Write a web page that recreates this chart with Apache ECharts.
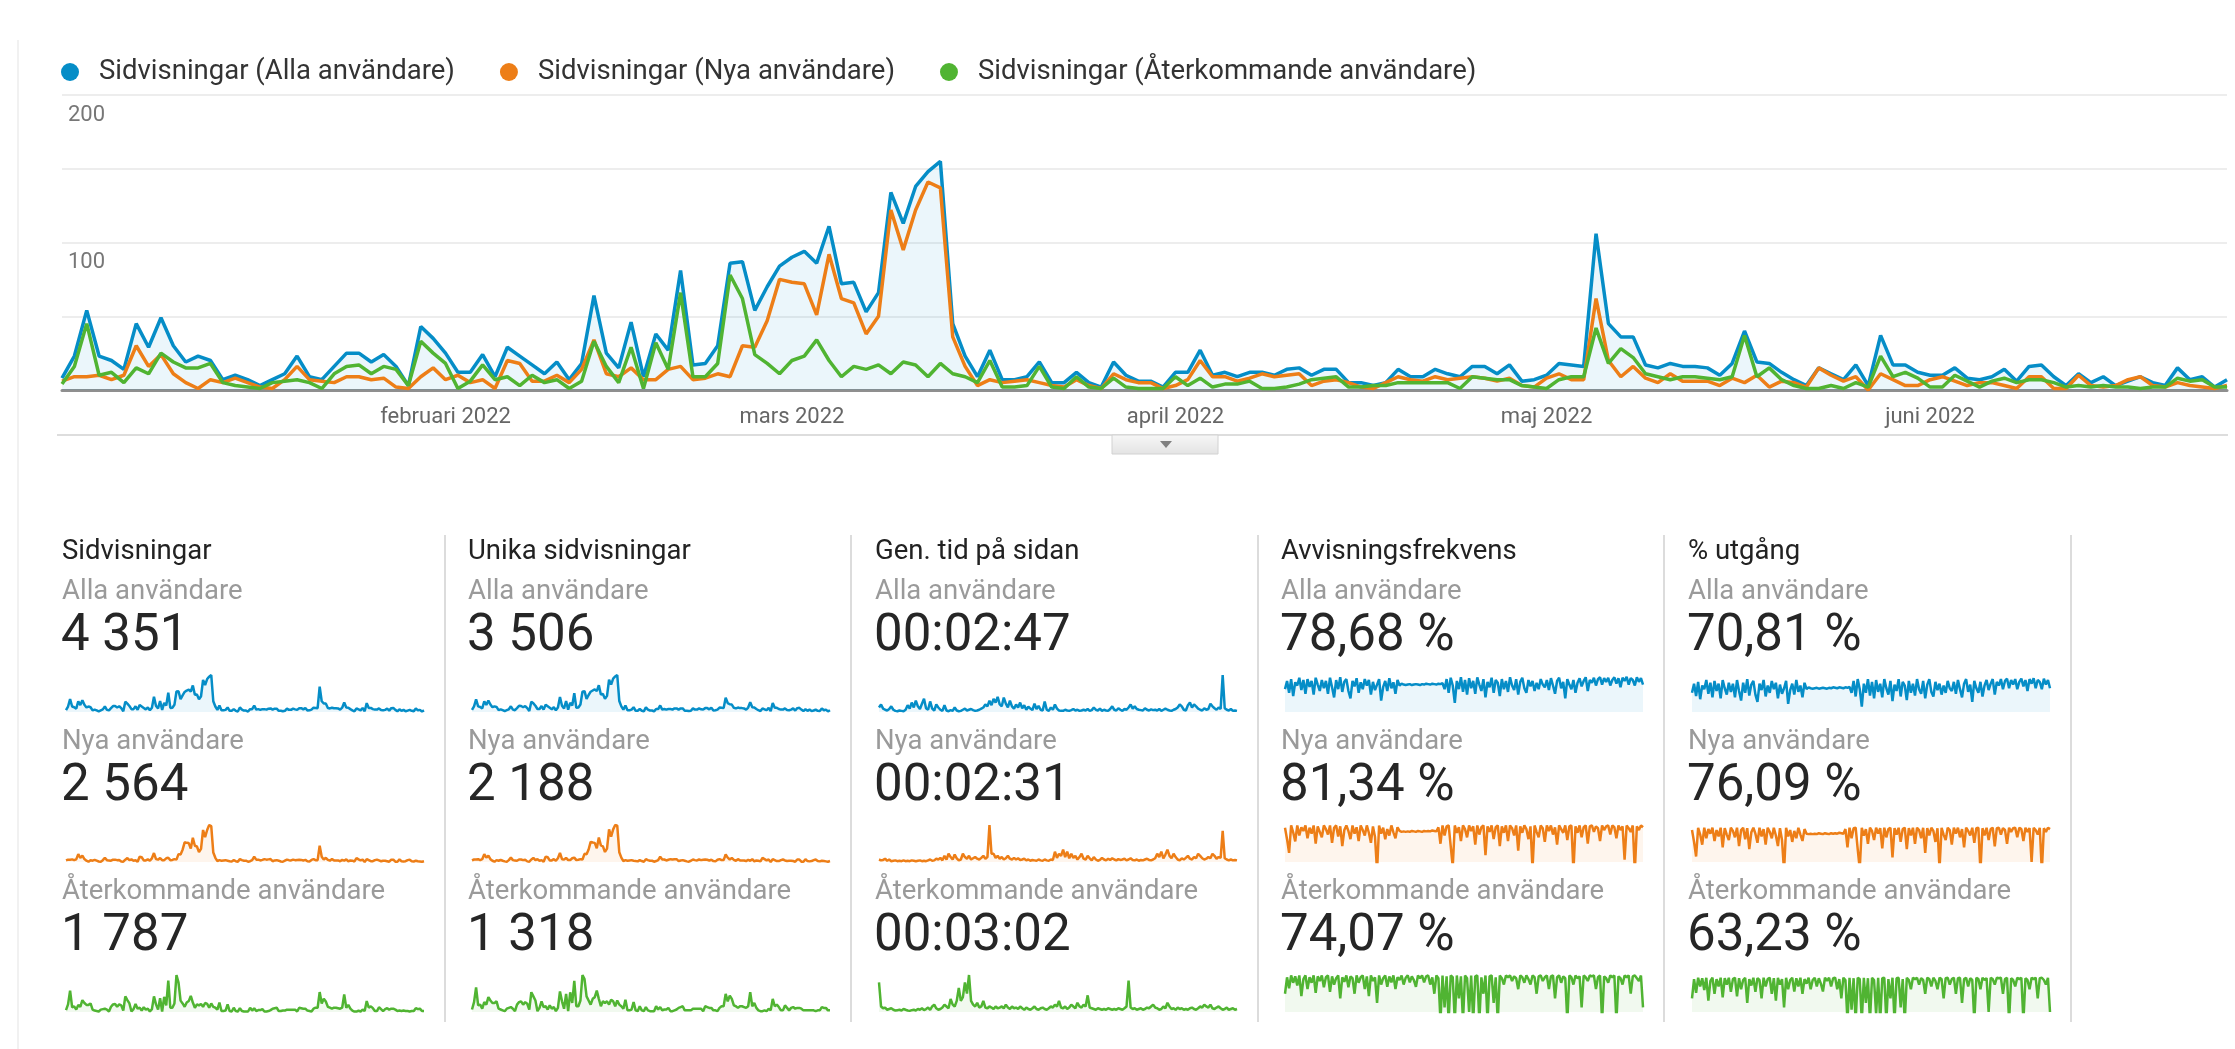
<!DOCTYPE html>
<html><head><meta charset="utf-8">
<script src="https://cdn.jsdelivr.net/npm/echarts@6/dist/echarts.min.js"></script>
<style>html,body{margin:0;padding:0;background:#fff}#c{width:2235px;height:1049px}</style>
</head><body><div id="c"></div>
<script>
// ---------- DATA ----------
const startDate = '2022-01-01';
const dayCount = 176;
const tickDates = ['2022-02-01','2022-03-01','2022-04-01','2022-05-01','2022-06-01'];
const tickLabels = ['februari 2022','mars 2022','april 2022','maj 2022','juni 2022'];
const yTickLabels = ['100','200'];
const seriesNames = ['Sidvisningar (Alla användare)','Sidvisningar (Nya användare)','Sidvisningar (Återkommande användare)'];

const pvAll = [8,23,54,23,20,14,45,29,49,30,
19,23,20,7,10,7,3,7,11,23,
9,7,16,25,25,19,24,16,3,43,
35,25,12,12,24,9,29,23,17,11,
19,7,18,64,25,15,46,9,38,27,
81,17,18,30,86,87,54,70,84,90,
94,86,111,72,73,53,66,134,113,138,
148,155,45,23,9,27,7,7,9,19,
5,5,12,5,2,19,10,6,6,2,
12,12,27,10,12,9,12,12,10,14,
15,10,14,14,5,5,3,5,14,9,
9,14,11,9,16,16,11,17,6,7,
10,18,17,16,106,45,36,36,17,15,
18,16,16,15,10,18,40,19,18,12,
7,3,15,11,7,17,3,37,17,17,
12,10,10,15,8,7,9,14,6,16,
17,9,3,11,5,9,3,6,9,5,
3,15,7,9,2,7];
const pvNew = [6,9,9,10,7,10,30,16,24,11,
5,1,7,5,8,5,2,1,7,16,
7,6,5,9,9,7,8,2,1,9,
15,7,10,5,7,1,20,18,6,6,
10,5,14,34,11,9,15,7,7,14,
16,7,8,11,9,30,29,47,75,73,
72,51,92,62,59,38,50,122,95,122,
141,137,36,16,3,7,5,6,7,5,
3,2,7,3,1,11,7,5,5,1,
3,7,20,9,9,6,8,11,9,10,
11,3,6,7,5,2,1,5,9,7,
6,9,7,8,9,8,6,8,3,2,
8,11,7,7,62,20,9,16,8,5,
11,6,6,6,3,8,5,10,2,6,
5,2,15,10,6,9,0,11,7,3,
3,7,9,6,3,5,5,3,1,9,
9,1,1,10,3,2,3,7,9,3,
2,5,3,2,1,3];
const pvRet = [4,16,45,10,12,5,15,11,25,19,
15,15,18,5,3,2,1,5,6,7,
5,1,11,16,17,11,16,14,3,33,
25,18,1,6,17,7,9,3,10,5,
7,1,6,33,16,5,29,1,32,14,
66,9,9,18,78,62,24,18,11,20,
23,34,20,9,16,14,17,11,19,17,
9,18,11,9,5,20,2,2,3,16,
2,1,9,2,1,8,2,1,1,1,
9,3,8,2,4,4,6,1,1,2,
4,7,8,9,2,2,3,3,5,5,
5,5,5,1,9,8,7,7,3,2,
1,7,9,9,42,18,28,22,11,9,
7,9,9,8,7,9,37,9,15,7,
3,1,1,3,1,5,2,23,9,12,
8,2,2,10,6,2,6,8,5,7,
7,5,2,3,2,3,2,2,1,2,
2,8,6,7,2,2];

const uniqAll = [7,19,42,19,17,12,36,24,38,25,
16,19,17,6,9,6,3,6,9,19,
8,6,13,21,20,16,20,13,3,34,
29,21,10,10,20,8,24,19,14,9,
16,6,15,50,21,12,37,8,31,22,
63,14,15,25,68,70,44,57,68,72,
76,70,90,59,60,44,54,108,92,112,
119,124,37,19,8,22,6,6,8,16,
4,4,10,4,2,16,8,5,5,2,
10,10,22,8,10,8,10,10,8,12,
12,8,12,12,4,4,3,4,12,8,
8,12,9,8,13,13,9,14,5,6,
8,15,14,13,48,30,26,25,14,12,
15,13,13,12,8,15,33,16,15,10,
6,3,12,9,6,14,3,30,14,14,
10,8,8,12,7,6,8,12,5,13,
14,8,3,9,4,8,3,5,8,4,
3,12,6,8,2,6];
const uniqNew = [5,8,8,9,6,9,25,14,20,9,
4,1,6,4,7,4,2,1,6,14,
6,5,4,8,8,6,7,2,1,8,
13,6,9,4,6,1,17,15,5,5,
9,4,12,29,9,8,13,6,6,12,
14,6,7,9,8,26,25,40,64,62,
61,44,78,53,50,32,43,104,81,104,
118,116,31,14,3,6,4,5,6,4,
3,2,6,3,1,9,6,4,4,1,
3,6,17,8,8,5,7,9,8,9,
9,3,5,6,4,2,1,4,8,6,
5,8,6,7,8,7,5,7,3,2,
7,9,6,6,24,14,8,13,7,4,
9,5,5,5,3,7,4,9,2,5,
4,2,13,9,5,8,0,9,6,3,
3,6,8,5,3,4,4,3,1,8,
8,1,1,9,3,2,3,6,8,3,
2,4,3,2,1,3];
const uniqRet = [3,12,30,8,9,4,12,9,18,14,
11,11,13,4,3,2,1,4,5,6,
4,1,9,12,13,9,12,10,3,24,
19,14,1,5,13,6,7,3,8,4,
6,1,5,25,13,4,22,1,24,11,
38,7,7,14,45,40,19,14,9,16,
18,26,16,7,13,11,13,9,15,13,
7,14,9,7,4,15,2,2,3,12,
2,1,7,2,1,6,2,1,1,1,
7,3,6,2,3,3,5,1,1,2,
3,5,6,7,2,2,2,2,4,4,
4,4,4,1,7,6,5,5,2,2,
1,5,7,7,22,13,20,16,8,7,
5,7,7,6,5,7,24,7,11,5,
2,1,1,2,1,4,2,16,7,9,
6,2,2,8,5,2,5,6,4,5,
5,4,2,2,2,2,2,2,1,2,
2,6,5,5,2,2];

// average time on page, seconds
const timeAll = [120,200,90,60,40,80,150,60,30,20,
40,30,20,60,180,90,250,120,300,150,
80,220,350,100,60,280,90,40,200,120,
60,30,180,40,20,50,30,120,40,20,
30,60,90,40,60,80,50,30,40,60,
90,120,200,150,300,180,350,250,400,200,
150,380,220,120,300,150,90,200,120,250,
100,180,60,140,90,50,220,80,160,60,
40,280,60,30,120,60,200,90,40,30,
30,60,40,30,50,80,40,60,30,40,
60,40,80,30,50,120,60,40,90,30,
60,40,30,80,150,60,40,100,60,30,
80,60,120,200,90,150,80,60,50,40,
100,60,40,70,50,60,40,80,30,60,
90,60,40,30,60,80,120,200,150,60,
40,180,250,120,200,150,90,60,40,100,
60,80,220,150,100,60,120,80,980,100,
60,40,80,30,40,30];
const timeNew = [60,40,50,80,30,60,20,30,40,20,
30,20,40,20,30,20,40,30,20,30,
40,20,30,20,40,60,30,40,80,60,
100,40,150,60,200,120,60,180,90,40,
60,200,120,80,150,60,90,120,80,60,
100,150,80,120,900,200,200,100,150,80,
120,60,90,150,80,60,100,60,90,50,
60,80,40,60,30,50,40,30,60,40,
30,60,40,30,60,50,250,100,200,150,
300,120,250,90,200,100,150,60,120,200,
80,60,150,90,40,120,60,30,50,100,
60,40,80,50,90,60,40,70,50,60,
80,40,60,90,50,40,60,30,50,40,
60,80,50,40,60,90,200,120,250,90,
180,300,150,90,200,120,60,40,90,60,
100,150,80,60,120,90,200,150,90,60,
80,120,90,200,150,80,120,100,760,90,
60,40,60,40,50,40];
const timeRet = [800,150,100,120,60,80,100,60,40,50,
60,40,80,60,40,30,50,60,40,80,
60,100,50,80,120,60,150,200,100,60,
80,120,200,150,100,350,200,150,300,650,
300,400,800,500,1000,300,200,150,250,120,
150,300,120,100,150,120,80,150,100,120,
150,100,200,120,80,150,100,120,80,150,
100,60,120,80,60,100,150,80,60,100,
120,80,60,100,150,120,200,150,300,120,
100,150,80,120,200,150,100,250,150,120,
200,150,450,120,100,80,60,100,80,60,
80,60,100,80,60,80,60,100,80,60,
100,150,850,120,80,100,60,80,100,60,
80,120,100,150,200,120,100,60,80,150,
100,250,150,80,100,60,120,80,100,60,
80,60,100,120,80,60,100,150,120,200,
150,120,200,100,80,120,150,100,60,80,
120,60,80,100,60,80];

// bounce rate, %
const bounceAll = [70,88,62,92,55,85,78,95,68,90,
60,92,75,88,58,95,80,66,90,72,
88,60,95,74,52,90,70,96,64,86,
92,66,50,88,76,94,62,85,70,92,
78,90,58,86,68,80,92,45,75,88,
66,94,72,85,60,90,78,82,80,79,
80,81,79,80,81,80,79,81,80,82,
81,80,82,81,80,82,81,83,70,92,
62,95,78,40,88,70,96,64,90,58,
94,72,88,60,96,80,66,92,52,86,
74,95,62,90,84,55,92,70,88,64,
96,78,68,92,58,86,95,72,62,90,
76,88,66,84,70,92,80,74,90,68,
94,78,60,88,95,72,86,50,92,80,
70,90,62,84,94,76,88,96,66,90,
84,95,78,92,96,80,94,86,95,78,
90,96,82,94,74,95,88,97,80,94,
90,78,96,86,94,80];
const bounceNew = [95,70,40,100,85,65,100,78,96,88,
100,72,95,82,100,60,98,86,74,100,
92,80,100,62,95,100,76,98,55,90,
100,88,70,100,82,96,66,100,90,78,
100,84,62,98,75,0,100,82,95,70,
92,78,100,85,72,96,88,86,87,86,
87,86,88,87,86,88,87,86,88,87,
88,87,89,88,87,96,60,100,78,98,
100,55,10,100,84,96,66,100,92,74,
100,88,98,58,100,80,96,100,35,98,
86,100,70,96,100,55,98,84,100,66,
100,94,78,100,45,98,84,100,92,70,
98,5,100,86,74,100,94,64,100,88,
100,80,96,58,100,92,84,100,68,98,
100,0,98,84,100,74,96,100,60,98,
100,86,98,94,66,100,90,98,100,80,
100,96,72,100,90,98,25,100,94,86,
100,0,98,90,100,96];
const bounceRet = [60,96,72,100,84,98,78,100,55,92,
100,70,96,84,100,62,98,88,100,74,
96,100,64,98,80,94,100,50,96,86,
100,74,98,94,60,100,84,96,100,70,
98,55,100,88,96,40,100,80,94,100,
75,98,85,100,70,96,90,100,80,95,
100,85,98,90,75,100,94,100,85,98,
100,80,96,60,100,94,0,100,30,98,
0,100,96,0,100,50,98,0,100,94,
20,100,0,98,100,0,96,60,100,0,
98,100,40,96,0,100,94,80,100,96,
100,88,98,94,70,100,96,84,100,92,
80,100,96,60,98,100,88,96,100,70,
98,100,50,96,100,84,98,94,0,100,
96,80,100,94,98,30,100,96,88,100,
98,100,70,96,100,0,98,94,84,100,
96,100,0,98,94,80,100,96,100,60,
98,100,94,88,100,30];

// exit rate, %
const exitAll = [62,82,55,86,48,78,70,90,60,84,
52,88,66,82,50,90,72,58,84,64,
82,52,90,66,45,84,62,92,56,80,
88,58,42,82,68,90,54,78,62,88,
70,84,50,80,60,72,88,38,68,82,
58,90,64,78,52,84,70,74,72,71,
72,73,71,72,73,72,71,73,72,74,
73,72,74,73,72,74,73,75,62,88,
54,92,70,32,82,62,92,56,86,50,
90,64,82,52,92,72,58,88,44,80,
66,92,54,86,78,46,88,62,82,56,
92,70,60,88,50,80,92,64,54,86,
68,82,58,78,62,88,72,66,86,60,
90,70,52,82,92,64,80,42,88,72,
62,86,54,78,90,68,82,92,58,86,
78,92,70,88,93,72,90,80,92,70,
86,93,76,90,66,92,82,94,72,90,
86,70,93,80,90,72];
const exitNew = [90,64,32,95,80,58,95,72,92,82,
95,66,90,76,95,52,94,80,68,95,
88,74,95,55,90,95,70,94,48,85,
95,82,62,95,76,92,58,95,86,72,
95,78,55,94,68,0,95,76,90,64,
88,72,95,80,66,92,82,81,82,81,
82,81,83,82,81,83,82,81,83,82,
83,82,84,83,82,92,52,95,72,94,
95,48,5,95,78,92,60,95,88,68,
95,82,94,50,95,74,92,95,30,94,
80,95,64,92,95,48,94,78,95,60,
95,90,72,95,40,94,78,95,88,64,
94,5,95,80,68,95,90,58,95,82,
95,74,92,52,95,88,78,95,62,94,
95,0,94,78,95,68,92,95,54,94,
95,80,94,90,60,95,86,94,95,74,
95,92,66,95,86,94,20,95,90,80,
95,0,94,86,95,92];
const exitRet = [50,92,62,95,76,94,68,95,45,88,
95,60,92,76,95,52,94,80,95,64,
92,95,54,94,70,90,95,40,92,78,
95,64,94,90,50,95,76,92,95,60,
94,45,95,80,92,30,95,70,90,95,
65,94,76,95,60,92,82,95,70,90,
95,76,94,82,65,95,88,95,76,94,
95,70,92,50,95,90,0,95,25,94,
0,95,92,0,95,40,94,0,95,90,
15,95,0,94,95,0,92,50,95,0,
94,95,30,92,0,95,90,70,95,92,
95,80,94,90,60,95,92,76,95,88,
70,95,92,50,94,95,80,92,95,60,
94,95,40,92,95,76,94,90,0,95,
92,70,95,90,94,20,95,92,80,95,
94,95,60,92,95,0,94,90,76,95,
92,95,0,94,90,70,95,92,95,50,
94,95,90,80,95,20];

const metricTitles = ['Sidvisningar','Unika sidvisningar','Gen. tid på sidan','Avvisningsfrekvens','% utgång'];
const segmentNames = ['Alla användare','Nya användare','Återkommande användare'];
const metricTotals = [
  ['4 351','2 564','1 787'],
  ['3 506','2 188','1 318'],
  ['00:02:47','00:02:31','00:03:02'],
  ['78,68 %','81,34 %','74,07 %'],
  ['70,81 %','76,09 %','63,23 %']
];
const sparkData = [
  [pvAll, pvNew, pvRet],
  [uniqAll, uniqNew, uniqRet],
  [timeAll, timeNew, timeRet],
  [bounceAll, bounceNew, bounceRet],
  [exitAll, exitNew, exitRet]
];
const metricIsPercent = [false, false, false, true, true];

// ---------- BUILD ----------
const colors = ['#058dc7','#ed7e17','#50b432'];
const fills = ['rgba(5,141,199,0.11)','rgba(237,126,23,0.11)','rgba(80,180,50,0.11)'];
const FONT = 'Roboto, "Noto Sans", sans-serif';

const cats = [];
const t0 = Date.parse(startDate + 'T00:00:00Z');
for (let i = 0; i < dayCount; i++) cats.push(new Date(t0 + i * 86400000).toISOString().slice(0, 10));

const grids = [{ left: 62, right: 8, top: 95, height: 295 }];
const xAxes = [{
  type: 'category', data: cats, boundaryGap: false, gridIndex: 0,
  axisLine: { lineStyle: { color: '#8f8f8f', width: 3 } },
  axisTick: { show: false },
  axisLabel: {
    interval: (i, v) => tickDates.indexOf(v) >= 0,
    formatter: v => { const k = tickDates.indexOf(v); return k >= 0 ? tickLabels[k] : ''; },
    fontSize: 22, color: '#666', margin: 16, fontFamily: FONT
  },
  splitLine: { show: false }
}];
const yAxes = [{
  type: 'value', min: 0, max: 200, interval: 50, gridIndex: 0,
  axisLine: { show: false }, axisTick: { show: false },
  splitLine: { lineStyle: { color: '#ededed', width: 2 } },
  axisLabel: {
    inside: true, margin: 6, fontSize: 22, color: '#777', fontFamily: FONT,
    verticalAlign: 'top', padding: [9, 0, 0, 0],
    formatter: v => (yTickLabels.indexOf(String(v)) >= 0 ? String(v) : '')
  }
}];
const mainData = [pvAll, pvNew, pvRet];
const series = mainData.map((d, k) => ({
  name: seriesNames[k], type: 'line', data: d, xAxisIndex: 0, yAxisIndex: 0,
  showSymbol: false, symbol: 'none', silent: true, z: 3 + k,
  lineStyle: { color: colors[k], width: 3.5 },
  itemStyle: { color: colors[k] },
  areaStyle: k === 0 ? { color: 'rgba(5,141,199,0.11)' } : undefined
}));

const colX = [62, 468, 875, 1281, 1688];
const graphics = [];
const ROW = 150;
metricTitles.forEach((title, c) => {
  const x = colX[c];
  graphics.push({ type: 'text', x: x, y: 552, style: { text: title, fontSize: 27.5, fontFamily: FONT, fill: '#222', verticalAlign: 'middle' } });
  graphics.push({ type: 'line', shape: { x1: x + 383, y1: 535, x2: x + 383, y2: 1022 }, style: { stroke: '#dcdcdc', lineWidth: 2 } });
  for (let r = 0; r < 3; r++) {
    graphics.push({ type: 'text', x: x, y: 592 + ROW * r, style: { text: segmentNames[r], fontSize: 27.5, fontFamily: FONT, fill: '#9a9a9a', verticalAlign: 'middle' } });
    graphics.push({ type: 'text', x: x - 1, y: 637 + ROW * r, style: { text: metricTotals[c][r], fontSize: 51, fontFamily: FONT, fill: '#262626', verticalAlign: 'middle' } });
    const gi = grids.length;
    const bottomY = 712 + ROW * r;
    grids.push({ left: x + 4, top: bottomY - 37, width: 358, height: 37 });
    xAxes.push({ type: 'category', data: cats, boundaryGap: false, gridIndex: gi, show: false });
    yAxes.push({ type: 'value', gridIndex: gi, show: false, min: metricIsPercent[c] ? 20 : 0, max: metricIsPercent[c] ? 101 : 'dataMax', splitLine: { show: false } });
    series.push({
      name: 'spark-' + c + '-' + r, type: 'line', data: sparkData[c][r], xAxisIndex: gi, yAxisIndex: gi,
      showSymbol: false, symbol: 'none', silent: true, clip: true,
      lineStyle: { color: colors[r], width: 2.5 }, areaStyle: { color: fills[r], origin: 'start' }
    });
  }
});
graphics.push({ type: 'line', shape: { x1: 57, y1: 435, x2: 2228, y2: 435 }, style: { stroke: '#dddddd', lineWidth: 2 } });
graphics.push({ type: 'rect', shape: { x: 1112, y: 435, width: 106, height: 19 },
  style: { fill: new echarts.graphic.LinearGradient(0, 0, 0, 1, [{ offset: 0, color: '#f7f7f7' }, { offset: 1, color: '#e3e3e3' }]), stroke: '#d2d2d2', lineWidth: 1 } });
graphics.push({ type: 'polygon', shape: { points: [[1160, 441], [1172, 441], [1166, 448]] }, style: { fill: '#808080' } });
graphics.push({ type: 'line', shape: { x1: 18, y1: 40, x2: 18, y2: 1049 }, style: { stroke: '#f1f1f1', lineWidth: 2 } });

const chart = echarts.init(document.getElementById('c'), null, { renderer: 'canvas' });
chart.setOption({
  animation: false,
  backgroundColor: '#fff',
  textStyle: { fontFamily: FONT },
  legend: {
    data: seriesNames, icon: 'circle', left: 56, top: 53,
    itemWidth: 48, itemHeight: 18, itemGap: 45,
    textStyle: { fontSize: 27.5, color: '#333', fontFamily: FONT },
    selectedMode: false
  },
  grid: grids, xAxis: xAxes, yAxis: yAxes, series: series,
  graphic: { elements: graphics }
});
</script>
</body></html>
